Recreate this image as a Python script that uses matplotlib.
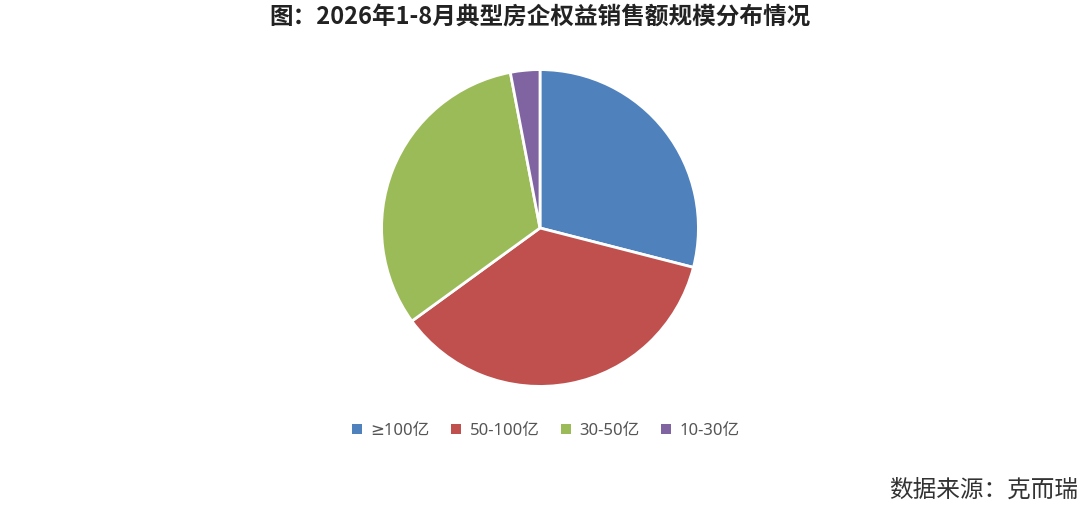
import matplotlib
matplotlib.use("Agg")
import matplotlib.pyplot as plt
from matplotlib.patches import Patch

plt.rcParams["font.family"] = ["Noto Sans CJK SC", "DejaVu Sans"]

# share of typical developers by equity sales scale
labels = ["≥100亿", "50-100亿", "30-50亿", "10-30亿"]
values = [29, 36, 32, 3]
colors = ["#4F81BD", "#C0504D", "#9BBB59", "#8064A2"]

fig = plt.figure(figsize=(10.8, 5.17), dpi=100)

ax = fig.add_axes([380 / 1080, 129 / 517, 320 / 1080, 320 / 517])
ax.pie(values, colors=colors, startangle=90, counterclock=False,
       wedgeprops={"edgecolor": "white", "linewidth": 2})
ax.set_xlim(-1.01, 1.01)
ax.set_ylim(-1.01, 1.01)
ax.set_aspect("equal")

fig.text(0.5, 1 - 17 / 517, "图：2026年1-8月典型房企权益销售额规模分布情况",
         ha="center", va="center", fontsize=17, fontweight="bold", color="#222222")

handles = [Patch(facecolor=c, edgecolor="none") for c in colors]
fig.legend(handles, labels, loc="center", bbox_to_anchor=(546 / 1080, 1 - 431 / 517),
           ncol=4, frameon=False, handlelength=0.6, handleheight=0.6,
           handletextpad=0.5, columnspacing=1.3, labelcolor="#555555",
           prop={"family": ["Noto Sans", "DejaVu Sans", "Noto Sans CJK SC"], "size": 12})

fig.text(1078 / 1080, 1 - 490 / 517, "数据来源：克而瑞", ha="right", va="center",
         fontsize=17, color="#333333")

fig.savefig("out.png", dpi=100)
